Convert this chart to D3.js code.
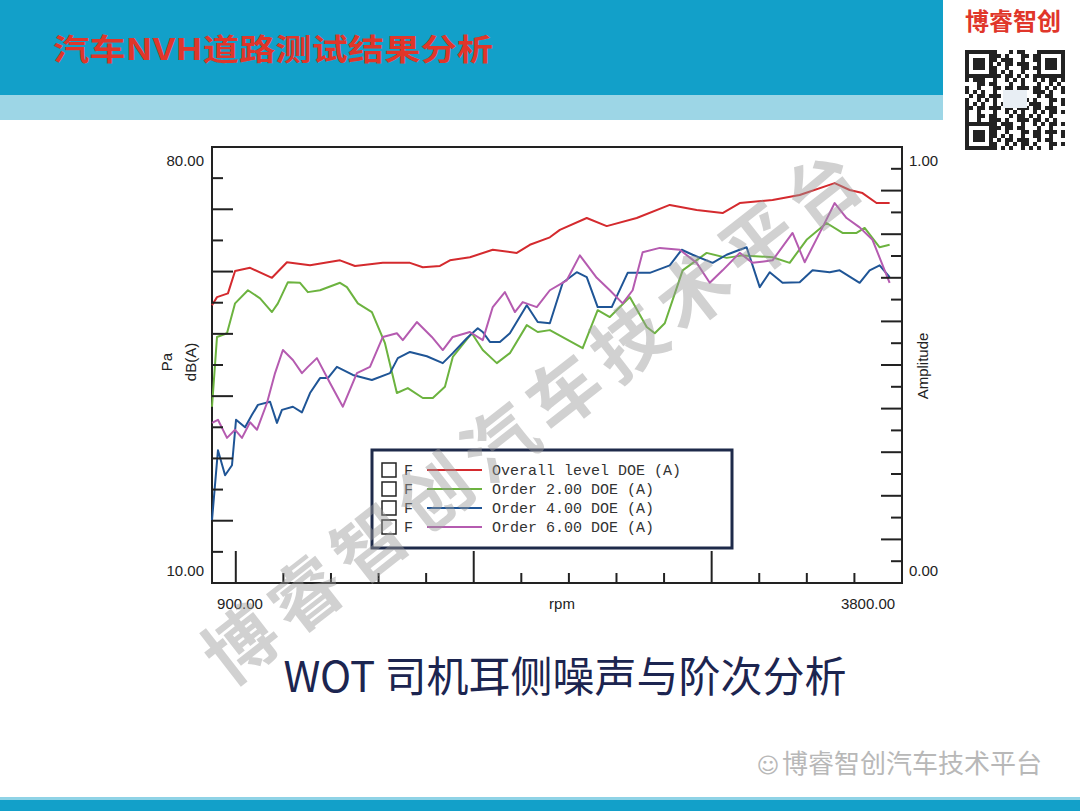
<!DOCTYPE html>
<html>
<head>
<meta charset="utf-8">
<script src="https://cdn.jsdelivr.net/npm/d3@7"></script>
<style>
  body { margin: 0; background: #fff; }
  svg { display: block; }
</style>
</head>
<body>
<svg id="chart" width="1080" height="811"></svg>
<script>
// values: [rpm, dB(A)]
const overall = [
  [900,54.6],[921,55.9],[967,56.5],[997,60.1],[1060,60.6],[1152,59.0],[1215,61.5],[1312,61.0],
  [1438,61.8],[1501,60.9],[1618,61.4],[1732,61.4],[1786,60.7],[1858,60.9],[1900,61.8],[1984,62.3],
  [2080,63.5],[2181,63.0],[2236,64.3],[2320,65.5],[2362,66.7],[2475,68.6],[2559,67.3],[2685,68.6],
  [2824,70.7],[2937,69.9],[3046,69.4],[3118,71.0],[3256,71.5],[3370,72.3],[3517,74.2],[3580,73.1],
  [3634,72.6],[3693,71.0],[3748,71.0]
];
const order2 = [
  [900,38.3],[921,49.5],[963,50.1],[997,54.9],[1051,57.0],[1102,55.7],[1152,53.5],[1177,54.9],
  [1219,58.3],[1270,58.2],[1303,56.7],[1354,57.0],[1438,58.2],[1467,57.5],[1513,54.9],[1572,53.5],
  [1627,48.5],[1677,40.5],[1723,41.3],[1786,39.7],[1828,39.7],[1879,41.5],[1912,46.3],[1992,50.1],
  [2038,47.4],[2097,45.3],[2152,46.9],[2223,51.4],[2269,50.3],[2320,50.6],[2458,47.7],[2521,53.8],
  [2572,52.7],[2656,55.9],[2727,51.1],[2761,50.1],[2803,51.7],[2878,60.2],[2979,63.0],[3063,62.2],
  [3130,62.6],[3256,62.3],[3328,61.4],[3399,65.1],[3483,67.8],[3550,66.2],[3609,66.2],[3643,67.0],
  [3706,63.9],[3748,64.3]
];
const order4 = [
  [900,20.1],[925,31.3],[955,27.3],[984,28.9],[1001,36.2],[1039,35.0],[1068,37.0],[1093,38.6],
  [1144,39.1],[1173,35.7],[1194,37.8],[1240,38.3],[1278,37.4],[1312,40.5],[1354,42.9],[1387,42.9],
  [1425,44.7],[1492,43.4],[1572,42.6],[1648,43.7],[1681,46.1],[1732,47.1],[1803,46.4],[1870,45.3],
  [1912,46.9],[1971,49.3],[2017,50.9],[2038,50.3],[2068,48.7],[2110,48.7],[2152,50.1],[2223,54.6],
  [2269,51.9],[2320,51.7],[2374,58.2],[2433,59.9],[2475,59.1],[2521,54.3],[2580,54.3],[2647,59.8],
  [2740,59.8],[2824,61.0],[2874,63.5],[2920,62.7],[3004,61.4],[3063,62.7],[3118,63.5],[3147,63.9],
  [3202,57.5],[3244,59.9],[3298,58.2],[3370,58.3],[3424,60.2],[3496,59.9],[3538,60.2],[3622,58.2],
  [3664,60.2],[3706,61.0],[3748,59.1]
];
const order6 = [
  [900,35.7],[925,36.2],[963,33.3],[997,34.6],[1026,33.3],[1060,35.8],[1089,34.6],[1131,38.9],
  [1165,43.7],[1198,47.4],[1240,45.8],[1278,43.7],[1303,44.7],[1341,46.1],[1396,42.1],[1450,38.3],
  [1509,43.7],[1564,44.7],[1618,49.5],[1677,50.1],[1702,49.0],[1761,51.9],[1824,49.5],[1870,47.4],
  [1912,49.5],[1984,50.3],[2038,49.0],[2080,54.3],[2131,56.7],[2173,53.5],[2206,55.1],[2265,54.3],
  [2320,57.0],[2391,58.6],[2446,62.6],[2517,59.0],[2572,57.0],[2626,54.9],[2668,57.0],[2710,63.1],
  [2782,63.8],[2866,63.5],[2937,61.4],[2992,58.2],[3046,60.2],[3118,63.0],[3172,61.4],[3256,61.8],
  [3340,66.2],[3391,61.5],[3466,67.1],[3517,71.0],[3567,68.6],[3622,67.1],[3676,65.1],[3748,58.2]
];
const seriesNames = ["Overall level DOE (A)", "Order 2.00 DOE (A)", "Order 4.00 DOE (A)", "Order 6.00 DOE (A)"];
const seriesColors = ["#d42a2e", "#6cb33f", "#1f5596", "#b55bb0"];
const xDomain = [900, 3800];
const yDomain = [10, 80];
const yRightDomain = [0, 1];

const svg = d3.select("#chart");

// slide background
svg.append("rect").attr("x", 0).attr("y", 0).attr("width", 943).attr("height", 95).attr("fill", "#12a0c9");
svg.append("rect").attr("x", 0).attr("y", 95).attr("width", 943).attr("height", 25).attr("fill", "#9dd6e6");
svg.append("rect").attr("x", 0).attr("y", 799).attr("width", 1080).attr("height", 12).attr("fill", "#12a0c9");
svg.append("rect").attr("x", 0).attr("y", 797).attr("width", 1080).attr("height", 3).attr("fill", "#8fd3e6");
svg.append("text").attr("x", 53).attr("y", 60)
  .attr("font-family", "Noto Sans CJK SC").attr("font-weight", "bold").attr("font-size", 30)
  .attr("fill", "#e0362a").attr("textLength", 440).attr("lengthAdjust", "spacingAndGlyphs")
  .text("汽车NVH道路测试结果分析");
svg.append("text").attr("x", 1013).attr("y", 30).attr("text-anchor", "middle")
  .attr("font-family", "Noto Sans CJK SC").attr("font-weight", "bold").attr("font-size", 24)
  .attr("fill", "#e0362a").text("博睿智创");

// rough qr-like block
const qr = svg.append("g").attr("transform", "translate(965,50)");
qr.append("rect").attr("width", 100).attr("height", 100).attr("fill", "#fff");
const cells = d3.range(25 * 25).filter(i => Math.sin(i * 12.9898 + 78.233) * 43758.5453 % 1 > 0 === (Math.sin(i * 4.1) > -0.1));
qr.selectAll("rect.c").data(cells).join("rect").attr("class", "c")
  .attr("x", i => (i % 25) * 4).attr("y", i => Math.floor(i / 25) * 4)
  .attr("width", 4).attr("height", 4).attr("fill", "#222");
[[0,0],[72,0],[0,72]].forEach(([x,y]) => {
  qr.append("rect").attr("x", x).attr("y", y).attr("width", 28).attr("height", 28).attr("fill", "#fff");
  qr.append("rect").attr("x", x + 2).attr("y", y + 2).attr("width", 24).attr("height", 24).attr("fill", "none").attr("stroke", "#222").attr("stroke-width", 4);
  qr.append("rect").attr("x", x + 8).attr("y", y + 8).attr("width", 12).attr("height", 12).attr("fill", "#222");
});
qr.append("rect").attr("x", 38).attr("y", 40).attr("width", 24).attr("height", 18).attr("fill", "#e8eef4");

// plot
const L = 212, R = 902, T = 147, B = 583;
const x = d3.scaleLinear().domain(xDomain).range([L, R]);
const y = d3.scaleLinear().domain(yDomain).range([B, T]);
const y2 = d3.scaleLinear().domain(yRightDomain).range([B, T]);
const axisFont = "Liberation Sans, Arial, sans-serif";

svg.append("rect").attr("x", L).attr("y", T).attr("width", R - L).attr("height", B - T)
  .attr("fill", "#fff").attr("stroke", "#222").attr("stroke-width", 2);

const lineGen = d3.line().x(d => x(d[0])).y(d => y(d[1]));
[overall, order2, order4, order6].forEach((s, i) => {
  svg.append("path").datum(s).attr("d", lineGen).attr("fill", "none")
    .attr("stroke", seriesColors[i]).attr("stroke-width", 2).attr("stroke-linejoin", "round");
});

// left ticks (inward)
const yt = d3.range(15, 80, 5);
svg.append("g").selectAll("line").data(yt).join("line")
  .attr("x1", L).attr("x2", d => L + (d % 10 === 0 ? 21 : 11))
  .attr("y1", d => y(d)).attr("y2", d => y(d)).attr("stroke", "#222").attr("stroke-width", 2);
// right ticks
const y2t = d3.range(1, 20).map(i => i / 20);
svg.append("g").selectAll("line").data(y2t).join("line")
  .attr("x1", R).attr("x2", (d, i) => R - (i % 2 === 0 ? 11 : 21))
  .attr("y1", d => y2(d)).attr("y2", d => y2(d)).attr("stroke", "#222").attr("stroke-width", 2);
// bottom ticks
const xt = d3.range(1000, 3800, 200);
svg.append("g").selectAll("line").data(xt).join("line")
  .attr("x1", d => x(d)).attr("x2", d => x(d))
  .attr("y1", B).attr("y2", d => B - (d % 1000 === 0 ? 32 : 10)).attr("stroke", "#222").attr("stroke-width", 2);

const lbl = (tx, ty, t, anchor, rot) => {
  const e = svg.append("text").attr("x", tx).attr("y", ty).attr("font-family", axisFont)
    .attr("font-size", 15).attr("fill", "#222").attr("text-anchor", anchor || "start").text(t);
  if (rot) e.attr("transform", `rotate(-90,${tx},${ty})`);
};
lbl(204, 166, d3.format(".2f")(yDomain[1]), "end");
lbl(204, 576, d3.format(".2f")(yDomain[0]), "end");
lbl(909, 166, d3.format(".2f")(yRightDomain[1]));
lbl(909, 576, d3.format(".2f")(yRightDomain[0]));
lbl(240, 609, d3.format(".2f")(xDomain[0]), "middle");
lbl(868, 609, d3.format(".2f")(xDomain[1]), "middle");
lbl(562, 609, "rpm", "middle");
lbl(172, 362, "Pa", "middle", true);
lbl(196, 362, "dB(A)", "middle", true);
lbl(928, 366, "Amplitude", "middle", true);

// legend
const lg = svg.append("g").attr("transform", "translate(372,450)");
lg.append("rect").attr("width", 360).attr("height", 98).attr("fill", "#fff").attr("stroke", "#1e2a4a").attr("stroke-width", 3);
seriesNames.forEach((n, i) => {
  const yy = 20 + i * 19;
  lg.append("rect").attr("x", 10).attr("y", yy - 7).attr("width", 14).attr("height", 14)
    .attr("fill", "none").attr("stroke", "#222").attr("stroke-width", 1.5);
  lg.append("text").attr("x", 32).attr("y", yy + 5).attr("font-family", "Liberation Mono, monospace")
    .attr("font-size", 15).attr("fill", "#333").text("F");
  lg.append("line").attr("x1", 55).attr("x2", 110).attr("y1", yy).attr("y2", yy)
    .attr("stroke", seriesColors[i]).attr("stroke-width", 2);
  lg.append("text").attr("x", 120).attr("y", yy + 5).attr("font-family", "Liberation Mono, monospace")
    .attr("font-size", 15).attr("fill", "#333").text(n);
});

// caption
svg.append("text").attr("x", 565).attr("y", 692).attr("text-anchor", "middle")
  .attr("font-family", "Noto Sans CJK SC").attr("font-size", 42).attr("fill", "#1c2550")
  .text("WOT 司机耳侧噪声与阶次分析");
svg.append("text").attr("x", 1042).attr("y", 773).attr("text-anchor", "end")
  .attr("font-family", "Noto Sans CJK SC").attr("font-size", 26).attr("fill", "#b8b8b8")
  .text("博睿智创汽车技术平台");
svg.append("text").attr("x", 768).attr("y", 773).attr("text-anchor", "middle")
  .attr("font-family", "DejaVu Sans").attr("font-size", 22).attr("fill", "#b8b8b8").text("☺");

// watermark
svg.append("text").attr("transform", "translate(540,420) rotate(-38)")
  .attr("text-anchor", "middle").attr("dominant-baseline", "middle")
  .attr("font-family", "Noto Sans CJK SC").attr("font-weight", "bold").attr("font-size", 72)
  .attr("fill", "#9a9a9a").attr("opacity", 0.45).attr("letter-spacing", 10)
  .text("博睿智创汽车技术平台");
</script>
</body>
</html>
